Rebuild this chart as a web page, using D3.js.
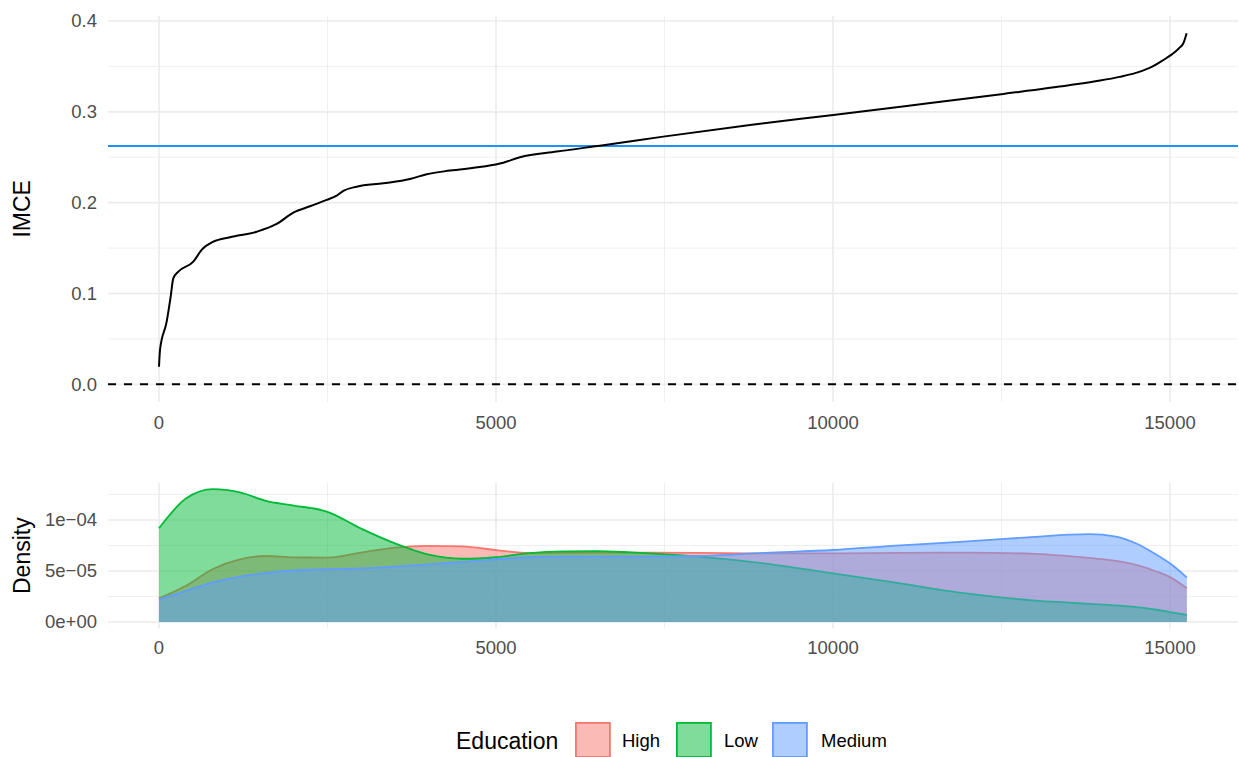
<!DOCTYPE html>
<html>
<head>
<meta charset="utf-8">
<script src="https://cdn.jsdelivr.net/npm/d3@7"></script>
<style>
  html, body { margin: 0; padding: 0; background: #fff; }
  svg { display: block; font-family: "Liberation Sans", Arial, sans-serif; }
</style>
</head>
<body>
<svg id="chart" width="1239" height="757"></svg>
<script>
// Sorted individual effects (rank of observation, IMCE estimate)
const imceRank  = [0, 15, 114, 173, 212, 287, 509, 633, 806, 1053, 1450, 1746, 1993, 2240, 2488, 2636, 2735, 2933, 3328, 3724, 3972, 4318, 4812, 5108, 5356, 5900, 6592, 7482, 8769, 10005, 11094, 12527, 13500, 13962, 14250, 14555, 14720, 14852, 14960, 15050, 15130, 15198, 15247];
const imceValue = [0.0194, 0.038, 0.069, 0.0965, 0.1167, 0.124, 0.135, 0.148, 0.157, 0.162, 0.168, 0.1765, 0.189, 0.196, 0.203, 0.2077, 0.213, 0.2176, 0.2213, 0.226, 0.2313, 0.2353, 0.2397, 0.244, 0.25, 0.2562, 0.2632, 0.2727, 0.2856, 0.2966, 0.3065, 0.3197, 0.3292, 0.3344, 0.3385, 0.3443, 0.3492, 0.3548, 0.3598, 0.3645, 0.3698, 0.3755, 0.3866];
const meanIMCE = 0.2624;

// Density of rank position by education group (values in units of 1e-5)
const densRank   = [0, 400, 800, 1200, 1600, 2000, 2500, 3000, 3500, 4000, 4500, 5000, 5500, 6000, 6500, 7000, 8000, 9000, 10000, 11000, 12000, 13000, 13500, 13800, 14200, 14500, 14800, 15000, 15250];
const densHigh   = [2.32, 3.55, 5.2, 6.15, 6.47, 6.33, 6.32, 6.8, 7.3, 7.47, 7.42, 7.05, 6.76, 6.78, 6.8, 6.8, 6.77, 6.73, 6.72, 6.78, 6.8, 6.68, 6.45, 6.28, 6.0, 5.6, 4.95, 4.4, 3.3];
const densLow    = [9.19, 12.1, 13.02, 12.7, 11.85, 11.42, 10.8, 9.15, 7.7, 6.6, 6.2, 6.35, 6.75, 6.92, 6.95, 6.82, 6.4, 5.72, 4.77, 3.78, 2.78, 2.1, 1.9, 1.78, 1.62, 1.45, 1.2, 0.97, 0.69];
const densMedium = [2.22, 3.05, 3.88, 4.45, 4.82, 5.05, 5.17, 5.25, 5.43, 5.65, 5.9, 6.15, 6.35, 6.4, 6.4, 6.4, 6.47, 6.78, 7.06, 7.52, 7.9, 8.35, 8.56, 8.62, 8.38, 7.7, 6.6, 5.75, 4.35];

const groups = ["High", "Low", "Medium"];
const groupColors = ["#F8766D", "#00BA38", "#619CFF"];

const xTicks = [0, 5000, 10000, 15000];
const xMinor = [2500, 7500, 12500];
const topTicks = [0, 0.1, 0.2, 0.3, 0.4];
const topMinor = [0.05, 0.15, 0.25, 0.35];
const botTicks = [0, 5e-5, 1e-4];
const botMinor = [2.5e-5, 7.5e-5, 1.25e-4];
const botTickLabels = ["0e+00", "5e\u221205", "1e\u221204"];

const svg = d3.select("#chart");
const panelLeft = 108, panelRight = 1238;
const topPanel = { y0: 15.7, y1: 401.9 };
const botPanel = { y0: 482.7, y1: 628.6 };

const x = d3.scaleLinear().domain([0, 15000]).range([159, 1170]);
const yTop = d3.scaleLinear().domain([0, 0.4]).range([384.3, 21]);
const yBot = d3.scaleLinear().domain([0, 1e-4]).range([622, 520]);

const tickSize = 18.5, titleSize = 23;
const gridColor = "#EBEBEB";

function drawGrid(g, yScale, panel, majorY, minorY) {
  g.selectAll(".minY").data(minorY).join("line")
    .attr("x1", panelLeft).attr("x2", panelRight)
    .attr("y1", d => yScale(d)).attr("y2", d => yScale(d))
    .attr("stroke", gridColor).attr("stroke-width", 0.8);
  g.selectAll(".minX").data(xMinor).join("line")
    .attr("x1", d => x(d)).attr("x2", d => x(d))
    .attr("y1", panel.y0).attr("y2", panel.y1)
    .attr("stroke", gridColor).attr("stroke-width", 0.8);
  g.selectAll(".majY").data(majorY).join("line")
    .attr("x1", panelLeft).attr("x2", panelRight)
    .attr("y1", d => yScale(d)).attr("y2", d => yScale(d))
    .attr("stroke", gridColor).attr("stroke-width", 1.6);
  g.selectAll(".majX").data(xTicks).join("line")
    .attr("x1", d => x(d)).attr("x2", d => x(d))
    .attr("y1", panel.y0).attr("y2", panel.y1)
    .attr("stroke", gridColor).attr("stroke-width", 1.6);
}

function drawAxes(yScale, yTicks, yLabels, panel, xLabelY, title) {
  const g = svg.append("g");
  g.selectAll(".xl").data(xTicks).join("text")
    .attr("x", d => x(d)).attr("y", xLabelY).attr("dy", "0.35em")
    .attr("text-anchor", "middle").attr("font-size", tickSize).attr("fill", "#4D4D4D")
    .text(d => d3.format("d")(d));
  g.selectAll(".yl").data(yTicks).join("text")
    .attr("x", 97).attr("y", d => yScale(d)).attr("dy", "0.35em")
    .attr("text-anchor", "end").attr("font-size", tickSize).attr("fill", "#4D4D4D")
    .text((d, i) => yLabels[i]);
  g.append("text")
    .attr("transform", `translate(30,${(panel.y0 + panel.y1) / 2}) rotate(-90)`)
    .attr("text-anchor", "middle").attr("font-size", titleSize).attr("fill", "#000")
    .text(title);
}

// ---- Top panel: sorted IMCE ----
const gTop = svg.append("g");
drawGrid(gTop, yTop, topPanel, topTicks, topMinor);

gTop.append("line")
  .attr("x1", panelLeft).attr("x2", panelRight)
  .attr("y1", yTop(0)).attr("y2", yTop(0))
  .attr("stroke", "#000").attr("stroke-width", 2).attr("stroke-dasharray", "8,8");

gTop.append("line")
  .attr("x1", panelLeft).attr("x2", panelRight)
  .attr("y1", yTop(meanIMCE)).attr("y2", yTop(meanIMCE))
  .attr("stroke", "#1E90FF").attr("stroke-width", 2);

const imceLine = d3.line()
  .curve(d3.curveMonotoneX)
  .x((d, i) => x(imceRank[i]))
  .y(d => yTop(d));
gTop.append("path").datum(imceValue)
  .attr("d", imceLine)
  .attr("fill", "none").attr("stroke", "#000").attr("stroke-width", 2)
  .attr("stroke-linejoin", "round");

drawAxes(yTop, topTicks, topTicks.map(d => d3.format(".1f")(d)), topPanel, 423, "IMCE");

// ---- Bottom panel: densities by education ----
const gBot = svg.append("g");
drawGrid(gBot, yBot, botPanel, botTicks, botMinor);

const seriesList = [densHigh, densLow, densMedium];
const area = d3.area()
  .curve(d3.curveMonotoneX)
  .x((d, i) => x(densRank[i]))
  .y0(yBot(0))
  .y1(d => yBot(d * 1e-5));
const upper = d3.line()
  .curve(d3.curveMonotoneX)
  .x((d, i) => x(densRank[i]))
  .y(d => yBot(d * 1e-5));

seriesList.forEach((s, k) => {
  gBot.append("path").datum(s)
    .attr("d", area)
    .attr("fill", groupColors[k]).attr("fill-opacity", 0.5);
  gBot.append("path").datum(s)
    .attr("d", upper)
    .attr("fill", "none").attr("stroke", groupColors[k]).attr("stroke-width", 1.8);
});

drawAxes(yBot, botTicks, botTickLabels, botPanel, 648, "Density");

// ---- Legend ----
const legend = svg.append("g");
legend.append("text")
  .attr("x", 456).attr("y", 741).attr("dy", "0.35em")
  .attr("font-size", titleSize).attr("fill", "#000")
  .text("Education");
const keyX = [575, 676, 772];
const labelX = [622, 724, 821];
groups.forEach((name, k) => {
  legend.append("rect")
    .attr("x", keyX[k] + 0.9).attr("y", 722.9)
    .attr("width", 34).attr("height", 34)
    .attr("fill", groupColors[k]).attr("fill-opacity", 0.5)
    .attr("stroke", groupColors[k]).attr("stroke-width", 1.8);
  legend.append("text")
    .attr("x", labelX[k]).attr("y", 741).attr("dy", "0.35em")
    .attr("font-size", tickSize).attr("fill", "#000")
    .text(name);
});
</script>
</body>
</html>
